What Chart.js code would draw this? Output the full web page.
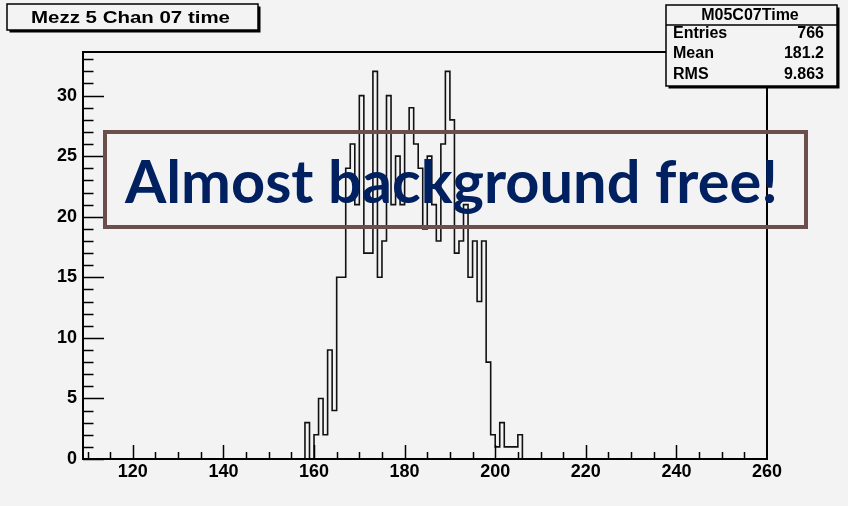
<!DOCTYPE html>
<html>
<head>
<meta charset="utf-8">
<script src="https://cdn.jsdelivr.net/npm/chart.js@4.4.0/dist/chart.umd.min.js"></script>
<style>
  html, body { margin: 0; padding: 0; background: #f3f3f3; }
  #wrap { width: 848px; height: 506px; }
</style>
</head>
<body>
<div id="wrap"><canvas id="histChart" width="848" height="506"></canvas></div>
<script>
/* ── Histogram data (bin low edge, entries) ───────────────── */
const binLow = [158, 159, 160, 161, 162, 163, 164, 165, 166, 167, 168, 169,
                170, 171, 172, 173, 174, 175, 176, 177, 178, 179, 180, 181,
                182, 183, 184, 185, 186, 187, 188, 189, 190, 191, 192, 193,
                194, 195, 196, 197, 198, 199, 200, 201, 202, 203, 204, 205];
const counts = [3, 0, 2, 5, 2, 9, 4, 15, 15, 24, 26, 21,
                30, 17, 17, 32, 15, 18, 30, 21, 25, 21, 27, 29,
                26, 24, 19, 25, 21, 18, 26, 32, 28, 17, 18, 21,
                15, 18, 13, 18, 8, 2, 1, 3, 1, 1, 1, 2];
const binWidth = 1;

const xRange = [109, 260];
const yRange = [0, 33.6];
const xTicks = [120, 140, 160, 180, 200, 220, 240, 260];
const yTicks = [0, 5, 10, 15, 20, 25, 30];

const histTitle  = 'Mezz 5 Chan 07 time';
const statName   = 'M05C07Time';
const statLabels = ['Entries', 'Mean', 'RMS'];
const statValues = ['766', '181.2', '9.863'];
const noteText   = 'Almost background free!';

/* ── Build the stepped outline ────────────────────────────── */
const points = [{ x: xRange[0], y: 0 }];
binLow.forEach((b, i) => points.push({ x: b, y: counts[i] }));
points.push({ x: binLow[binLow.length - 1] + binWidth, y: 0 });
points.push({ x: xRange[1], y: 0 });

const BG   = '#f3f3f3';
const FONT = 'Liberation Sans, Arial, sans-serif';

// draw text squeezed/stretched to a given width
function fitText(ctx, text, x, y, w, align) {
    const m  = ctx.measureText(text).width;
    const sx = w / m;
    ctx.save();
    ctx.translate(x, y);
    ctx.scale(sx, 1);
    ctx.textAlign = align || 'left';
    ctx.fillText(text, 0, 0);
    ctx.restore();
}

function shadowBox(ctx, x, y, w, h) {
    ctx.fillStyle = '#000';
    ctx.fillRect(x + 2.5, y + 2.5, w, h);
    ctx.fillStyle = BG;
    ctx.fillRect(x, y, w, h);
    ctx.strokeStyle = '#000';
    ctx.lineWidth = 1.5;
    ctx.strokeRect(x, y, w, h);
}

/* ── ROOT-style frame, inward ticks and pave boxes ───────── */
const rootStyle = {
    id: 'rootStyle',
    beforeDraw(chart) {
        const ctx = chart.ctx;
        ctx.save();
        ctx.fillStyle = BG;
        ctx.fillRect(0, 0, chart.width, chart.height);
        ctx.restore();
    },
    afterDraw(chart) {
        const ctx = chart.ctx;
        const a   = chart.chartArea;
        const xs  = chart.scales.x;
        const ys  = chart.scales.y;
        ctx.save();

        // frame
        ctx.strokeStyle = '#000';
        ctx.lineWidth = 2;
        ctx.strokeRect(a.left, a.top, a.right - a.left, a.bottom - a.top);

        // y ticks (inside)
        ctx.lineWidth = 1.5;
        ctx.beginPath();
        for (let v = 0; v <= yRange[1]; v += 1) {
            const py = Math.round(ys.getPixelForValue(v)) + 0.5;
            const len = v % 5 === 0 ? 21 : 10.5;
            ctx.moveTo(a.left, py);
            ctx.lineTo(a.left + len, py);
        }
        // x ticks (inside)
        for (let v = 110; v < xRange[1]; v += 5) {
            const px = Math.round(xs.getPixelForValue(v)) + 0.5;
            const len = xTicks.includes(v) ? 14 : 7;
            ctx.moveTo(px, a.bottom);
            ctx.lineTo(px, a.bottom - len);
        }
        ctx.stroke();

        // overlay note box
        ctx.strokeStyle = '#6c4e4d';
        ctx.lineWidth = 4;
        ctx.strokeRect(105, 132, 701, 95);
        ctx.fillStyle = '#002060';
        ctx.font = 'bold 60px Lato, sans-serif';
        ctx.textBaseline = 'alphabetic';
        fitText(ctx, noteText, 125, 203, 653, 'left');

        // title pave
        shadowBox(ctx, 7, 4, 251, 26);
        ctx.fillStyle = '#000';
        ctx.font = 'bold 17px ' + FONT;
        ctx.textBaseline = 'middle';
        fitText(ctx, histTitle, 31, 18, 199, 'left');

        // stats pave
        shadowBox(ctx, 666, 5, 171, 81);
        ctx.beginPath();
        ctx.moveTo(666, 25);
        ctx.lineTo(837, 25);
        ctx.stroke();
        ctx.fillStyle = '#000';
        ctx.font = 'bold 16px ' + FONT;
        ctx.textAlign = 'center';
        ctx.fillText(statName, 750, 16);
        const rowY = [34, 54, 75];
        statLabels.forEach((lab, i) => {
            ctx.textAlign = 'left';
            ctx.fillText(lab, 673, rowY[i]);
            ctx.textAlign = 'right';
            ctx.fillText(statValues[i], 824, rowY[i]);
        });

        ctx.restore();
    },
};

/* ── Chart ────────────────────────────────────────────────── */
const el = document.getElementById('histChart');

new Chart(el, {
    type : 'line',
    data : {
        datasets : [{
            data        : points,
            stepped     : 'before',
            borderColor : '#111',
            borderWidth : 1.6,
            pointRadius : 0,
            fill        : false,
            tension     : 0,
        }],
    },
    options : {
        responsive : false,
        animation  : false,
        layout     : { padding: { left: 0, right: 81, top: 52, bottom: 0 } },
        plugins    : {
            legend  : { display: false },
            tooltip : { enabled: false },
        },
        scales : {
            x : {
                type   : 'linear',
                min    : xRange[0],
                max    : xRange[1],
                grid   : { display: false, drawTicks: false },
                border : { display: false },
                afterBuildTicks : s => { s.ticks = xTicks.map(v => ({ value: v })); },
                afterFit        : s => { s.height = 47; },
                ticks  : {
                    color       : '#000',
                    font        : { family: FONT, size: 18, weight: 'bold' },
                    padding     : 2,
                    maxRotation : 0,
                    autoSkip    : false,
                },
            },
            y : {
                min    : yRange[0],
                max    : yRange[1],
                grid   : { display: false, drawTicks: false },
                border : { display: false },
                afterBuildTicks : s => { s.ticks = yTicks.map(v => ({ value: v })); },
                afterFit        : s => { s.width = 83; },
                ticks  : {
                    color   : '#000',
                    font    : { family: FONT, size: 18, weight: 'bold' },
                    padding : 6,
                },
            },
        },
    },
    plugins : [rootStyle],
});
</script>
</body>
</html>
